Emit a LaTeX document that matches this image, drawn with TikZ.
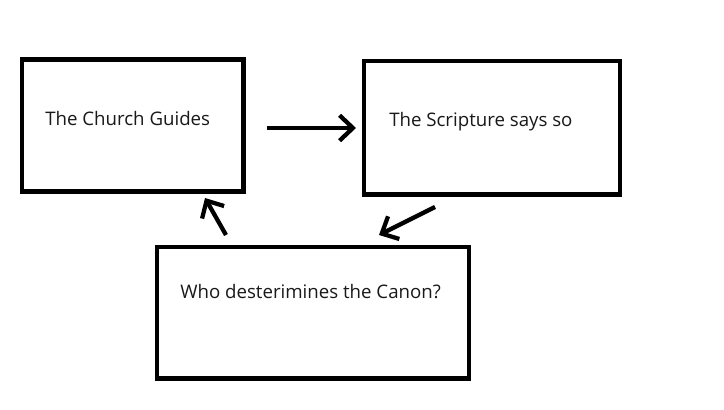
\documentclass[tikz,border=0pt]{standalone}
\usepackage{fontspec}
\setmainfont{Open Sans}
\usetikzlibrary{fit,arrows.meta}
\begin{document}
\begin{tikzpicture}[x=0.75pt,y=-0.75pt,
  box/.style={draw=black,line width=3.3pt,inner sep=0pt,fill=white},
  txt/.style={anchor=base west,inner sep=0pt,font=\fontsize{14pt}{16pt}\selectfont,text=black!90},
  conn/.style={line width=3.2pt,-{Straight Barb[length=10pt,width=19pt,line width=3.2pt]}}]
\useasboundingbox[fill=white] (0,0) rectangle (724,410);
\node[box,fit={(22,59.5) (243.5,191.5)}] (church) {};
\node[box,fit={(364,61) (620,194.5)}] (scripture) {};
\node[box,fit={(157,247) (469,378.5)}] (canon) {};
\node[txt] (t1) at (45,125) {The Church Guides};
\node[txt] (t2) at (389,126) {The Scripture says so};
\node[txt] (t3) at (180,298) {Who desterimines the Canon?};
\coordinate (a1s) at (267,128);
\coordinate (a1e) at (356,128);
\coordinate (a2s) at (435,207);
\coordinate (a2e) at (379,235);
\coordinate (a3s) at (226,235);
\coordinate (a3e) at (205,198);
\draw[conn] (a1s) -- (a1e);
\draw[conn] (a2s) -- (a2e);
\draw[conn] (a3s) -- (a3e);
\end{tikzpicture}
\end{document}
